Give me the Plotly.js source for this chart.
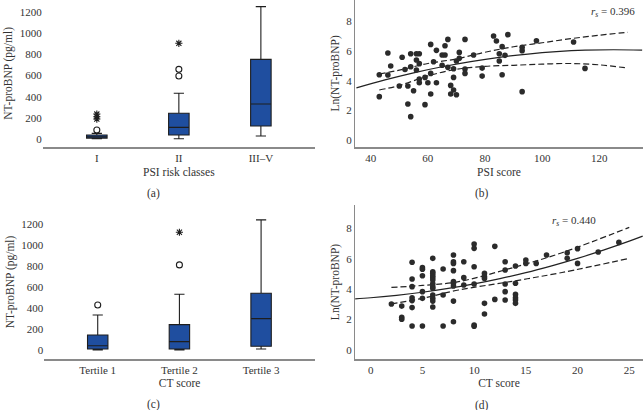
<!DOCTYPE html>
<html>
<head>
<meta charset="utf-8">
<script src="https://cdn.plot.ly/plotly-3.0.1.min.js"></script>
<style>html,body{margin:0;padding:0;background:#fff;}#chart{width:643px;height:410px;}</style>
</head>
<body>
<div id="chart"></div>
<script>
// ---------- Panel (a): NT-proBNP by PSI risk class ----------
const psiClasses = ['I', 'II', 'III–V'];
const psiQ1 = [12, 41, 125];
const psiMedian = [25, 113, 332];
const psiQ3 = [41, 245, 752];
const psiLowWhisker = [6, 6, 31];
const psiHighWhisker = [56, 433, 1248];
const psiOutlierCircleX = ['I', 'II', 'II'];
const psiOutlierCircleY = [88, 596, 658];
const psiOutlierStarX = ['I', 'I', 'I', 'II'];
const psiOutlierStarY = [191, 213, 238, 903];

// ---------- Panel (b): Ln(NT-proBNP) vs PSI score ----------
const psiScore = [43,43,46,46,47,50,51,52,53,53,54,54,54,55,56,56,56,57,57,57,57,59,59,60,61,61,61,62,63,63,65,65,66,66,67,67,68,68,69,69,69,70,70,71,71,73,73,73,76,79,79,83,84,85,85,86,86,87,88,93,93,93,98,111,115];
const psiLnBNP = [4.41,2.93,5.88,4.39,5.0,3.65,5.59,4.77,2.43,3.65,5.83,4.95,1.58,3.33,5.83,5.41,4.73,5.83,5.16,4.12,3.87,4.23,2.39,3.87,6.46,4.5,3.11,5.29,6.06,3.87,5.74,5.05,6.37,5.74,6.8,4.91,3.69,3.11,4.82,4.23,3.38,3.06,5.34,5.92,5.52,6.8,4.8,4.5,5.74,4.86,4.32,7.03,6.69,5.83,5.34,6.31,4.41,5.72,7.12,6.26,6.04,3.27,6.71,6.62,4.84];
const psiFitX = [35,45,55,65,75,85,95,105,115,125,135];
const psiFitY = [3.52,4.06,4.54,4.95,5.30,5.59,5.81,5.97,6.07,6.10,6.07];
const psiCiX = [43,50,60,70,80,90,100,110,120,130];
const psiCiUpper = [4.46,4.72,5.17,5.48,5.93,6.30,6.57,6.85,7.08,7.28];
const psiCiLower = [3.38,3.68,4.33,4.78,4.98,5.05,5.13,5.17,5.08,4.86];

// ---------- Panel (c): NT-proBNP by CT score tertile ----------
const ctTertiles = ['Tertile 1', 'Tertile 2', 'Tertile 3'];
const ctQ1 = [10, 10, 35];
const ctMedian = [41, 80, 299];
const ctQ3 = [143, 242, 541];
const ctLowWhisker = [0, 0, 10];
const ctHighWhisker = [334, 532, 1242];
const ctOutlierCircleX = ['Tertile 1', 'Tertile 2'];
const ctOutlierCircleY = [430, 812];
const ctOutlierStarX = ['Tertile 2'];
const ctOutlierStarY = [1124];

// ---------- Panel (d): Ln(NT-proBNP) vs CT score ----------
const ctScore = [2,3,3,3,4,4,4,4,4,4,4,5,5,5,5,5,5,6,6,6,6,6,6,6,6,6,6,6,6,6,7,7,7,8,8,8,8,8,8,8,8,8,9,9,9,10,10,10,10,10,10,11,11,11,11,11,12,12,13,13,13,13,13,14,14,14,14,14,14,15,15,16,17,19,19,20,20,22,24];
const ctLnBNP = [3.03,2.89,2.15,2.02,5.77,4.67,4.17,3.44,3.25,2.79,1.58,5.42,5.31,4.89,3.84,3.4,1.58,6.03,5.15,5.04,4.89,4.76,4.6,4.36,4.17,4.06,3.62,3.4,3.22,2.83,5.33,3.62,1.58,6.25,5.81,5.7,5.22,4.5,4.39,4.21,3.22,1.86,5.81,4.76,4.28,6.97,6.69,5.48,4.34,1.64,1.56,5.04,4.82,4.71,3.07,2.37,6.82,3.33,5.81,5.26,4.34,3.84,3.29,5.53,4.39,3.66,3.44,3.29,3.07,5.92,5.7,5.7,6.25,6.4,6.03,6.67,5.7,6.45,7.08];
const ctFitX = [-1.5,0,2.5,5,7.5,10,12.5,15,17.5,20,22.5,25,26.3];
const ctFitY = [3.37,3.44,3.60,3.80,4.05,4.35,4.70,5.09,5.54,6.03,6.57,7.16,7.49];
const ctCiX = [2,5,8.5,13.5,18.5,25];
const ctCiUpper = [4.12,4.25,4.5,5.37,6.4,8.07];
const ctCiLower = [3.03,3.4,3.95,4.5,5.1,6.03];

// ---------- Styles ----------
const boxFill = '#1f4e9f';
const boxLine = '#1e1e1e';
const dotColor = '#2b2b2b';
const axisGray = '#8a8a8a';
const fontFam = '"Liberation Serif", "DejaVu Serif", serif';
const textColor = '#333';

function boxTrace(cats, q1, med, q3, lo, hi, xa, ya) {
  return {type: 'box', x: cats, q1: q1, median: med, q3: q3, lowerfence: lo, upperfence: hi,
    boxpoints: false, width: 0.25, whiskerwidth: 0.5, fillcolor: boxFill,
    line: {color: boxLine, width: 1.1}, xaxis: xa, yaxis: ya, hoverinfo: 'skip'};
}
function outTrace(x, y, symbol, xa, ya) {
  return {type: 'scatter', mode: 'markers', x: x, y: y, xaxis: xa, yaxis: ya,
    marker: {symbol: symbol, size: 6, color: boxLine, line: {color: boxLine, width: 1.1}}, hoverinfo: 'skip'};
}
function lineTrace(x, y, dash, xa, ya) {
  return {type: 'scatter', mode: 'lines', x: x, y: y, xaxis: xa, yaxis: ya,
    line: {color: '#222', width: 1.2, dash: dash, shape: 'spline', smoothing: 1}, hoverinfo: 'skip'};
}
function dotTrace(x, y, xa, ya) {
  return {type: 'scatter', mode: 'markers', x: x, y: y, xaxis: xa, yaxis: ya,
    marker: {symbol: 'circle', size: 5.6, color: dotColor}, hoverinfo: 'skip'};
}

const traces = [
  boxTrace(psiClasses, psiQ1, psiMedian, psiQ3, psiLowWhisker, psiHighWhisker, 'x', 'y'),
  outTrace(psiOutlierCircleX, psiOutlierCircleY, 'circle-open', 'x', 'y'),
  outTrace(psiOutlierStarX, psiOutlierStarY, 'asterisk-open', 'x', 'y'),
  lineTrace(psiCiX, psiCiUpper, '6px,3px', 'x2', 'y2'),
  lineTrace(psiCiX, psiCiLower, '6px,3px', 'x2', 'y2'),
  lineTrace(psiFitX, psiFitY, 'solid', 'x2', 'y2'),
  dotTrace(psiScore, psiLnBNP, 'x2', 'y2'),
  boxTrace(ctTertiles, ctQ1, ctMedian, ctQ3, ctLowWhisker, ctHighWhisker, 'x3', 'y3'),
  outTrace(ctOutlierCircleX, ctOutlierCircleY, 'circle-open', 'x3', 'y3'),
  outTrace(ctOutlierStarX, ctOutlierStarY, 'asterisk-open', 'x3', 'y3'),
  lineTrace(ctCiX, ctCiUpper, '6px,3px', 'x4', 'y4'),
  lineTrace(ctCiX, ctCiLower, '6px,3px', 'x4', 'y4'),
  lineTrace(ctFitX, ctFitY, 'solid', 'x4', 'y4'),
  dotTrace(ctScore, ctLnBNP, 'x4', 'y4')
];

const tickFont = {family: fontFam, size: 11, color: textColor};
const titleFont = {family: fontFam, size: 11.5, color: textColor};
function xAx(domain, anchor, extra) {
  return Object.assign({domain: domain, anchor: anchor, showline: true, linecolor: axisGray, linewidth: 2,
    ticks: '', showgrid: false, zeroline: false, tickfont: tickFont, automargin: false, fixedrange: true}, extra);
}
function yAx(domain, anchor, extra) {
  return Object.assign({domain: domain, anchor: anchor, ticks: '', showgrid: false, zeroline: false,
    tickfont: tickFont, automargin: false, fixedrange: true}, extra);
}

const layout = {
  width: 643, height: 410,
  margin: {l: 0, r: 0, t: 0, b: 0},
  paper_bgcolor: '#fff', plot_bgcolor: '#fff',
  showlegend: false,
  font: {family: fontFam, size: 11, color: textColor},
  xaxis: xAx([0.0664, 0.4899], 'y', {type: 'category', range: [-0.66, 2.66],
    title: {text: 'PSI risk classes', font: titleFont, standoff: 5}}),
  yaxis: yAx([0.6422, 1], 'x', {range: [-69, 1310], tickvals: [0,200,400,600,800,1000,1200], showline: false,
    title: {text: 'NT-proBNP (pg/ml)', font: titleFont, standoff: 4}}),
  xaxis2: xAx([0.5521, 1], 'y2', {range: [34.5, 135.3], tickvals: [40,60,80,100,120],
    title: {text: 'PSI score', font: titleFont, standoff: 5}}),
  yaxis2: yAx([0.6422, 1], 'x2', {range: [-0.45, 9.46], tickvals: [0,2,4,6,8], showline: true, linecolor: axisGray, linewidth: 1,
    title: {text: 'Ln(NT-proBNP)', font: titleFont, standoff: 4}}),
  xaxis3: xAx([0.0689, 0.4899], 'y3', {type: 'category', range: [-0.654, 2.66],
    title: {text: 'CT score', font: titleFont, standoff: 4}}),
  yaxis3: yAx([0.1244, 0.5], 'x3', {range: [-86, 1384], tickvals: [0,200,400,600,800,1000,1200], showline: false,
    title: {text: 'NT-proBNP (pg/ml)', font: titleFont, standoff: 4}}),
  xaxis4: xAx([0.5521, 1], 'y4', {range: [-1.52, 26.33], tickvals: [0,5,10,15,20,25],
    title: {text: 'CT score', font: titleFont, standoff: 4}}),
  yaxis4: yAx([0.1244, 0.5], 'x4', {range: [-0.59, 9.54], tickvals: [0,2,4,6,8], showline: true, linecolor: axisGray, linewidth: 1,
    title: {text: 'Ln(NT-proBNP)', font: titleFont, standoff: 4}}),
  annotations: [
    {text: '(a)', xref: 'paper', yref: 'paper', x: 0.2395, y: 0.529, xanchor: 'center', yanchor: 'middle', showarrow: false, font: titleFont},
    {text: '(b)', xref: 'paper', yref: 'paper', x: 0.749, y: 0.529, xanchor: 'center', yanchor: 'middle', showarrow: false, font: titleFont},
    {text: '(c)', xref: 'paper', yref: 'paper', x: 0.2395, y: 0.0146, xanchor: 'center', yanchor: 'middle', showarrow: false, font: titleFont},
    {text: '(d)', xref: 'paper', yref: 'paper', x: 0.749, y: 0.012, xanchor: 'center', yanchor: 'middle', showarrow: false, font: titleFont},
    {text: '<i>r<sub>s</sub></i> = 0.396', xref: 'x2', yref: 'y2', x: 124.8, y: 8.65, xanchor: 'center', yanchor: 'middle', showarrow: false, font: {family: fontFam, size: 11, color: textColor}},
    {text: '<i>r<sub>s</sub></i> = 0.440', xref: 'x4', yref: 'y4', x: 19.7, y: 8.5, xanchor: 'center', yanchor: 'middle', showarrow: false, font: {family: fontFam, size: 11, color: textColor}}
  ]
};

Plotly.newPlot('chart', traces, layout, {displayModeBar: false, staticPlot: true});
</script>
</body>
</html>
